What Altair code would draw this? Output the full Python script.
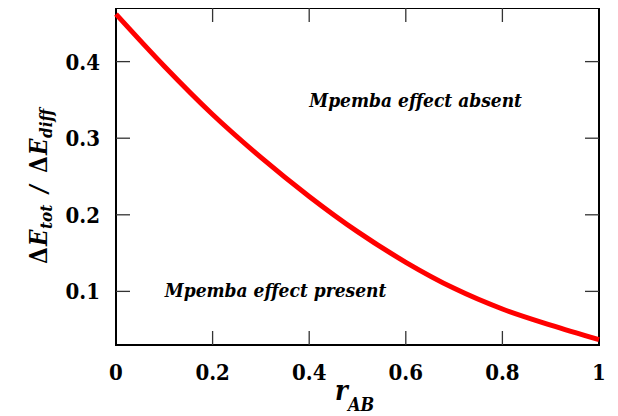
import altair as alt
import pandas as pd

# Curve values
r_ab = [0.0, 0.1, 0.2, 0.3, 0.4, 0.5, 0.6, 0.7, 0.8, 0.9, 1.0]
ratio = [0.462, 0.394, 0.331, 0.275, 0.224, 0.178, 0.138, 0.104, 0.077, 0.056, 0.037]

x_ticks = [0.0, 0.2, 0.4, 0.6, 0.8, 1.0]
x_labels = ["0", "0.2", "0.4", "0.6", "0.8", "1"]
y_ticks = [0.1, 0.2, 0.3, 0.4]
y_labels = ["0.1", "0.2", "0.3", "0.4"]
x_inner = [0.2, 0.4, 0.6, 0.8]

W, H = 483, 337
TICK = 14
FONT = "DejaVu Serif Condensed"
BOLD = dict(font=FONT, fontWeight="bold", color="black")

curve_df = pd.DataFrame({"r": r_ab, "ratio": ratio})
xt_df = pd.DataFrame({"v": x_inner})
yt_df = pd.DataFrame({"v": y_ticks})
xl_df = pd.DataFrame({"v": x_ticks, "lab": x_labels})
yl_df = pd.DataFrame({"v": y_ticks, "lab": y_labels})

xs = alt.Scale(domain=[0, 1], nice=False, zero=False)
ys = alt.Scale(domain=[0.03, 0.47], nice=False, zero=False)

curve = alt.Chart(curve_df).mark_line(color="#ff0000", strokeWidth=5, interpolate="monotone").encode(
    x=alt.X("r:Q", scale=xs, axis=None),
    y=alt.Y("ratio:Q", scale=ys, axis=None),
)

tick_style = dict(color="#333333", strokeWidth=1.3)
xt_bottom = alt.Chart(xt_df).mark_rule(**tick_style).encode(
    x=alt.X("v:Q", scale=xs), y=alt.value(H), y2=alt.value(H - TICK))
xt_top = alt.Chart(xt_df).mark_rule(**tick_style).encode(
    x=alt.X("v:Q", scale=xs), y=alt.value(0), y2=alt.value(TICK))
yt_left = alt.Chart(yt_df).mark_rule(**tick_style).encode(
    y=alt.Y("v:Q", scale=ys), x=alt.value(0), x2=alt.value(TICK))
yt_right = alt.Chart(yt_df).mark_rule(**tick_style).encode(
    y=alt.Y("v:Q", scale=ys), x=alt.value(W), x2=alt.value(W - TICK))

# tick labels (bold serif)
xlab = alt.Chart(xl_df).mark_text(fontSize=22, align="center", baseline="alphabetic", **BOLD).encode(
    x=alt.X("v:Q", scale=xs), y=alt.value(H + 35), text="lab:N")
ylab = alt.Chart(yl_df).mark_text(fontSize=22, align="right", baseline="alphabetic", dy=8, **BOLD).encode(
    y=alt.Y("v:Q", scale=ys), x=alt.value(-16), text="lab:N")

one = alt.Data(values=[{"k": 1}])

def ann(txt, xv, yv):
    return alt.Chart(one).mark_text(
        text=txt, fontStyle="italic", fontSize=19,
        align="left", baseline="alphabetic", **BOLD).encode(
        x=alt.datum(xv, scale=xs), y=alt.datum(yv, scale=ys))

ann1 = ann("Mpemba effect absent", 0.40, 0.341)
ann2 = ann("Mpemba effect present", 0.101, 0.093)

def piece(txt, px, py, size, italic=True, angle=0):
    kw = dict(text=txt, fontSize=size, align="left", baseline="alphabetic", **BOLD)
    if italic:
        kw["fontStyle"] = "italic"
    if angle:
        kw["angle"] = angle
    return alt.Chart(one).mark_text(**kw).encode(x=alt.value(px), y=alt.value(py))

# y title pieces (rotated): ΔE_tot / ΔE_diff
yt_pieces = [
    piece("Δ", -69, 256, 24, italic=False, angle=270),
    piece("E", -69, 238, 24, angle=270),
    piece("tot", -64, 221, 17, angle=270),
    piece("/", -69, 185, 24, angle=270),
    piece("Δ", -69, 165, 24, italic=False, angle=270),
    piece("E", -69, 147, 24, angle=270),
    piece("diff", -64, 130, 17, angle=270),
]
# x title pieces: r_AB
xt_pieces = [
    piece("r", 219, 392, 27),
    piece("AB", 232, 403, 18),
]

chart = alt.layer(
    curve, xt_bottom, xt_top, yt_left, yt_right, xlab, ylab, ann1, ann2, *yt_pieces, *xt_pieces
).properties(
    width=W, height=H,
    autosize=alt.AutoSizeParams(type="none"),
    padding={"left": 108, "top": 0, "right": 10, "bottom": 72},
).configure_view(stroke="black", strokeWidth=2)

chart.save("out.html", embed_options={"renderer": "svg", "actions": False})
